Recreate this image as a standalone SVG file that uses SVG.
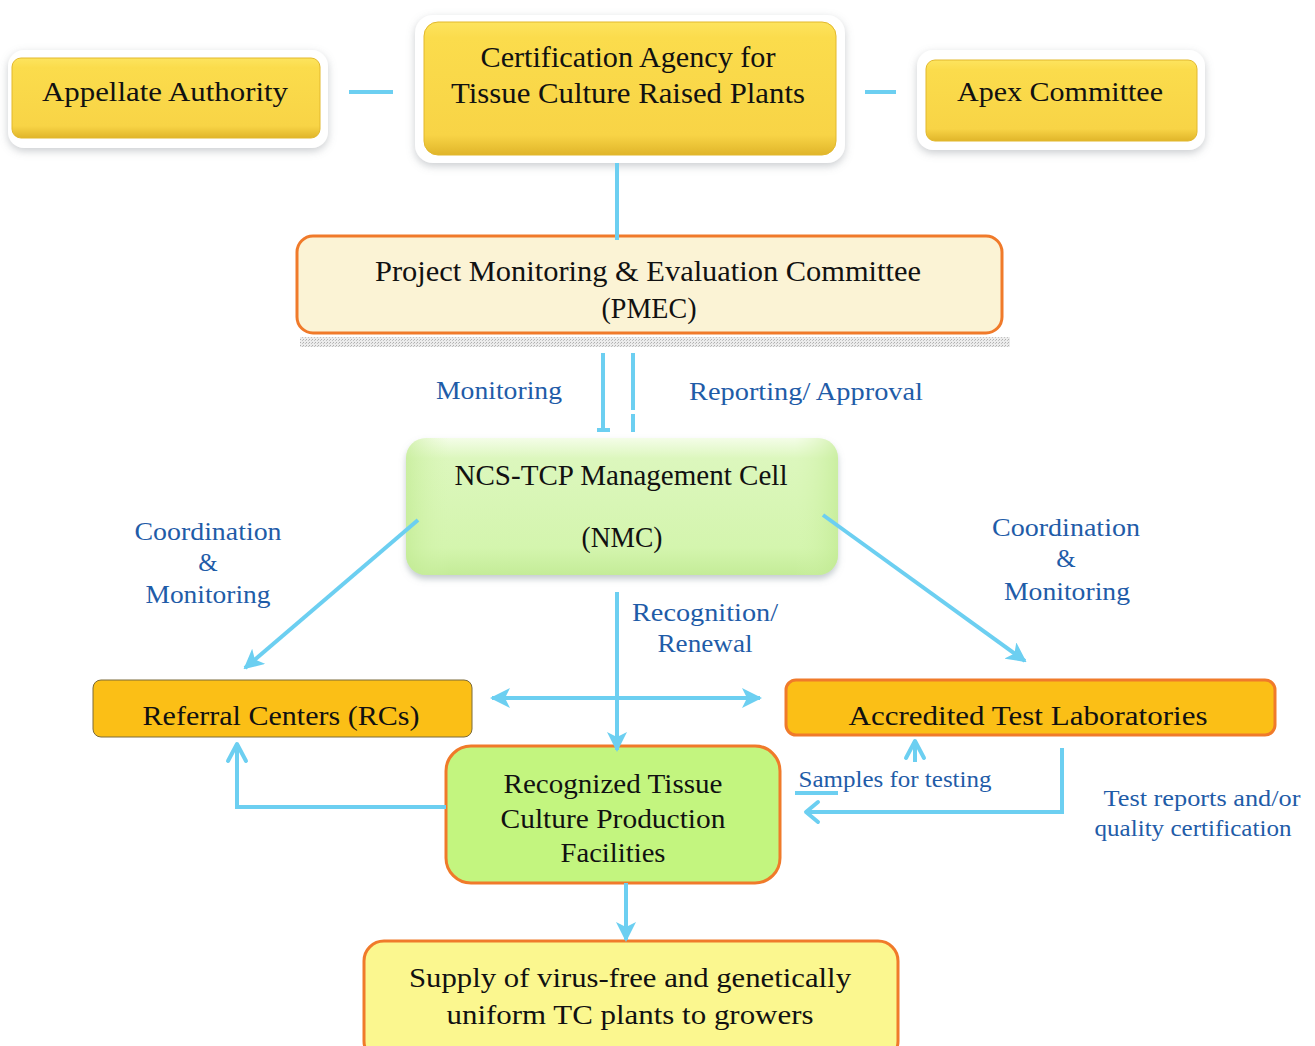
<svg xmlns="http://www.w3.org/2000/svg" width="1315" height="1046" viewBox="0 0 1315 1046">
  <defs>
    <style>
      .t { font-family: "Liberation Serif", "DejaVu Serif", serif; fill: #111; text-anchor: middle; }
      .lbl { font-family: "Liberation Serif", "DejaVu Serif", serif; fill: #1f5ca8; text-anchor: middle; }
      .ln { stroke: #6ccff1; stroke-width: 4; fill: none; }
      .chev { stroke: #6ccff1; stroke-width: 4; fill: none; stroke-linecap: round; stroke-linejoin: round; }
      .frame { fill: #ffffff; filter: url(#soft); }
      .gold { fill: url(#goldGrad); stroke: #e2b82c; stroke-width: 1; }
      .orange { stroke: #f07a2a; stroke-width: 3; }
    </style>
    <linearGradient id="goldGrad" x1="0" y1="0" x2="0" y2="1">
      <stop offset="0" stop-color="#fde45e"/>
      <stop offset="0.12" stop-color="#fbdc4c"/>
      <stop offset="0.85" stop-color="#f8d446"/>
      <stop offset="1" stop-color="#e0b52a"/>
    </linearGradient>
    <linearGradient id="greenGrad" x1="0" y1="0" x2="0" y2="1">
      <stop offset="0" stop-color="#f4fde8"/>
      <stop offset="0.15" stop-color="#dcf7bd"/>
      <stop offset="0.8" stop-color="#d4f5ae"/>
      <stop offset="1" stop-color="#c4ec98"/>
    </linearGradient>
    <linearGradient id="greenSide" x1="0" y1="0" x2="1" y2="0">
      <stop offset="0" stop-color="#bfe98f" stop-opacity="0.6"/>
      <stop offset="0.1" stop-color="#d6f5b0" stop-opacity="0"/>
      <stop offset="0.9" stop-color="#d6f5b0" stop-opacity="0"/>
      <stop offset="1" stop-color="#bfe98f" stop-opacity="0.6"/>
    </linearGradient>
    <pattern id="dither" width="3" height="3" patternUnits="userSpaceOnUse">
      <rect width="3" height="3" fill="#e4e4e4"/>
      <rect width="1" height="1" fill="#8c8c8c"/>
      <rect x="2" y="1" width="1" height="1" fill="#a8a8a8"/>
    </pattern>
    <filter id="soft" x="-10%" y="-20%" width="120%" height="150%">
      <feDropShadow dx="0" dy="3" stdDeviation="4" flood-color="#8a8f95" flood-opacity="0.45"/>
    </filter>
    <filter id="nmcShadow" x="-10%" y="-20%" width="120%" height="150%">
      <feDropShadow dx="0" dy="4" stdDeviation="3" flood-color="#8a9aa0" flood-opacity="0.5"/>
    </filter>
    <marker id="tri" viewBox="0 0 10 10" refX="9" refY="5" markerWidth="5" markerHeight="5" orient="auto-start-reverse" markerUnits="strokeWidth">
      <path d="M0,0 L10,5 L0,10 L2.5,5 Z" fill="#6ccff1"/>
    </marker>
  </defs>

  <rect width="1315" height="1046" fill="#ffffff"/>

  <!-- Appellate Authority -->
  <g id="appellate">
    <rect class="frame" x="8" y="50" width="320" height="98" rx="16"/>
    <rect class="gold" x="12" y="58" width="308" height="80" rx="9"/>
    <text class="t" x="165" y="101" font-size="28" textLength="246" lengthAdjust="spacingAndGlyphs">Appellate Authority</text>
  </g>

  <!-- Certification Agency -->
  <g id="certification">
    <rect class="frame" x="415" y="15" width="430" height="148" rx="18"/>
    <rect class="gold" x="424" y="22" width="412" height="133" rx="14"/>
    <text class="t" x="628" y="67" font-size="30" textLength="295" lengthAdjust="spacingAndGlyphs">Certification Agency for</text>
    <text class="t" x="628" y="103" font-size="30" textLength="354" lengthAdjust="spacingAndGlyphs">Tissue Culture Raised Plants</text>
  </g>

  <!-- Apex Committee -->
  <g id="apex">
    <rect class="frame" x="917" y="50" width="288" height="100" rx="16"/>
    <rect class="gold" x="926" y="60" width="271" height="81" rx="9"/>
    <text class="t" x="1060" y="101" font-size="28" textLength="206" lengthAdjust="spacingAndGlyphs">Apex Committee</text>
  </g>

  <!-- PMEC -->
  <g id="pmec">
    <rect x="300" y="337" width="710" height="10" fill="url(#dither)" opacity="0.7"/>
    <rect class="orange" x="297" y="236" width="705" height="97" rx="16" fill="#fbf3d5"/>
    <text class="t" x="648" y="281" font-size="29" textLength="546" lengthAdjust="spacingAndGlyphs">Project Monitoring &amp; Evaluation Committee</text>
    <text class="t" x="649" y="318" font-size="29" textLength="95" lengthAdjust="spacingAndGlyphs">(PMEC)</text>
  </g>

  <!-- PMEC / NMC labels -->
  <g id="labels-pmec">
    <text class="lbl" x="499" y="399" font-size="25" textLength="126" lengthAdjust="spacingAndGlyphs">Monitoring</text>
    <text class="lbl" x="806" y="400" font-size="25" textLength="234" lengthAdjust="spacingAndGlyphs">Reporting/ Approval</text>
  </g>

  <!-- NMC -->
  <g id="nmc">
    <rect x="406" y="438" width="432" height="137" rx="20" fill="url(#greenGrad)" filter="url(#nmcShadow)"/>
    <rect x="406" y="438" width="432" height="137" rx="20" fill="url(#greenSide)"/>
    <text class="t" x="621" y="485" font-size="29" textLength="333" lengthAdjust="spacingAndGlyphs">NCS-TCP Management Cell</text>
    <text class="t" x="622" y="547" font-size="29" textLength="81" lengthAdjust="spacingAndGlyphs">(NMC)</text>
  </g>

  <!-- side labels -->
  <g id="labels-coord">
    <text class="lbl" x="208" y="540" font-size="25" textLength="147" lengthAdjust="spacingAndGlyphs">Coordination</text>
    <text class="lbl" x="208" y="571" font-size="25">&amp;</text>
    <text class="lbl" x="208" y="603" font-size="25" textLength="125" lengthAdjust="spacingAndGlyphs">Monitoring</text>
    <text class="lbl" x="1066" y="536" font-size="25" textLength="148" lengthAdjust="spacingAndGlyphs">Coordination</text>
    <text class="lbl" x="1066" y="567" font-size="25">&amp;</text>
    <text class="lbl" x="1067" y="600" font-size="25" textLength="126" lengthAdjust="spacingAndGlyphs">Monitoring</text>
    <text class="lbl" x="705" y="621" font-size="25" textLength="146" lengthAdjust="spacingAndGlyphs">Recognition/</text>
    <text class="lbl" x="705" y="652" font-size="25" textLength="95" lengthAdjust="spacingAndGlyphs">Renewal</text>
  </g>

  <!-- Referral Centers -->
  <g id="referral">
    <rect x="93" y="680" width="379" height="57" rx="8" fill="#fbbf16" stroke="#7a6a3a" stroke-width="1"/>
    <text class="t" x="281" y="725" font-size="28" textLength="277" lengthAdjust="spacingAndGlyphs">Referral Centers (RCs)</text>
  </g>

  <!-- Accredited Test Laboratories -->
  <g id="labs">
    <rect class="orange" x="786" y="680" width="489" height="55" rx="10" fill="#fbbf16"/>
    <text class="t" x="1028" y="725" font-size="28" textLength="359" lengthAdjust="spacingAndGlyphs">Accredited Test Laboratories</text>
  </g>

  <!-- Production facilities -->
  <g id="facilities">
    <rect class="orange" x="446" y="746" width="334" height="137" rx="25" fill="#c3f57f"/>
    <text class="t" x="613" y="793" font-size="27" textLength="219" lengthAdjust="spacingAndGlyphs">Recognized Tissue</text>
    <text class="t" x="613" y="828" font-size="27" textLength="225" lengthAdjust="spacingAndGlyphs">Culture Production</text>
    <text class="t" x="613" y="862" font-size="27" textLength="105" lengthAdjust="spacingAndGlyphs">Facilities</text>
  </g>

  <!-- testing labels -->
  <g id="labels-testing">
    <text class="lbl" x="895" y="787" font-size="23" textLength="193" lengthAdjust="spacingAndGlyphs">Samples for testing</text>
    <text class="lbl" x="1202" y="806" font-size="23" textLength="197" lengthAdjust="spacingAndGlyphs">Test reports and/or</text>
    <text class="lbl" x="1193" y="836" font-size="23" textLength="197" lengthAdjust="spacingAndGlyphs">quality certification</text>
  </g>

  <!-- Supply -->
  <g id="supply">
    <rect class="orange" x="364" y="941" width="534" height="120" rx="20" fill="#fbf78f"/>
    <text class="t" x="630" y="987" font-size="28" textLength="442" lengthAdjust="spacingAndGlyphs">Supply of virus-free and genetically</text>
    <text class="t" x="630" y="1024" font-size="28" textLength="367" lengthAdjust="spacingAndGlyphs">uniform TC plants to growers</text>
  </g>

  <!-- connectors, drawn over the boxes -->
  <g id="connectors">
    <line class="ln" x1="349" y1="92" x2="393" y2="92"/>
    <line class="ln" x1="865" y1="92" x2="896" y2="92"/>
    <line class="ln" x1="617" y1="163" x2="617" y2="240"/>

    <!-- PMEC / NMC pair -->
    <line class="ln" x1="603" y1="353" x2="603" y2="430"/>
    <line class="ln" x1="597" y1="430" x2="610" y2="430" stroke-width="2"/>
    <line class="ln" x1="633" y1="353" x2="633" y2="410"/>
    <line class="ln" x1="633" y1="414" x2="633" y2="432"/>

    <!-- NMC to RCs and ATL -->
    <line class="ln" x1="418" y1="520" x2="245" y2="668" marker-end="url(#tri)"/>
    <line class="ln" x1="823" y1="515" x2="1025" y2="661" marker-end="url(#tri)"/>

    <!-- recognition / renewal -->
    <line class="ln" x1="617" y1="592" x2="617" y2="750" marker-end="url(#tri)"/>
    <line class="ln" x1="492" y1="698" x2="760" y2="698" marker-start="url(#tri)" marker-end="url(#tri)"/>

    <!-- production facilities to RCs -->
    <polyline class="ln" points="446,807 237,807 237,745"/>
    <polyline class="chev" points="228,761 237,744 246,761"/>

    <!-- samples to ATL -->
    <line class="ln" x1="915" y1="762" x2="915" y2="741"/>
    <polyline class="chev" points="906,758 915,741 924,758"/>

    <!-- reports back to facilities -->
    <polyline class="ln" points="1062,748 1062,812 806,812"/>
    <polyline class="chev" points="818,802 806,812 818,822"/>
    <line class="ln" x1="795" y1="793" x2="838" y2="793"/>

    <!-- facilities to supply -->
    <line class="ln" x1="626" y1="883" x2="626" y2="940" marker-end="url(#tri)"/>
  </g>
</svg>
